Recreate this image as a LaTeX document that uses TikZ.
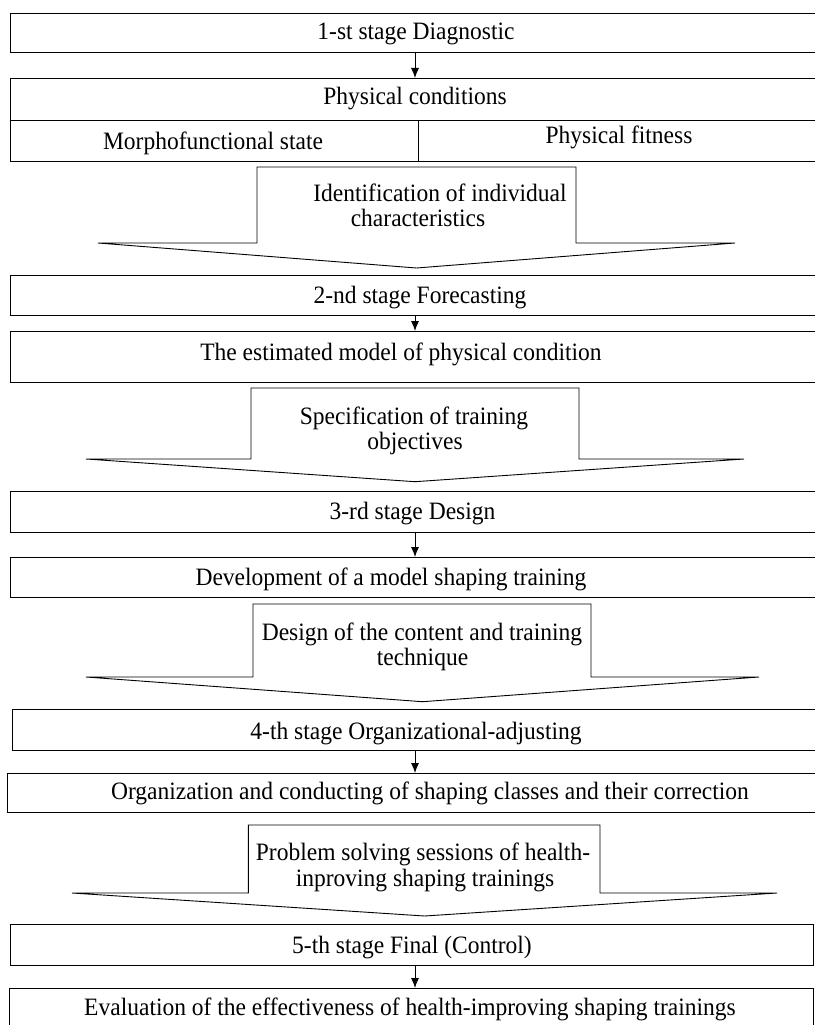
\documentclass[tikz,border=0pt]{standalone}
\usepackage{fontspec}
\setmainfont{Liberation Serif}[FakeStretch=0.94]
\usetikzlibrary{arrows.meta}
\begin{document}
\begin{tikzpicture}[x=1pt,y=-1pt,
  stagebox/.style={draw=black, line width=1.2pt, rectangle, inner sep=0pt, anchor=north west},
  lbl/.style={font=\fontsize{25}{26}\selectfont, inner sep=0pt, anchor=base},
  conn/.style={-{Latex[length=10pt,width=8pt]}, line width=0.9pt},
  blockarr/.style={draw=black, line width=0.9pt, line join=miter}]
\useasboundingbox (0,0) rectangle (814,1025);
\coordinate (ax) at (415,0);
% boxes
\node[stagebox, minimum width=810pt, minimum height=39pt] (b1) at (10,12.7) {};
\node[stagebox, minimum width=810pt, minimum height=42pt] (b2) at (10,78) {};
\node[stagebox, minimum width=408pt, minimum height=41pt] (b2l) at (10,120) {};
\node[stagebox, minimum width=402pt, minimum height=41pt] (b2r) at (418,120) {};
\node[stagebox, minimum width=810pt, minimum height=40pt] (b3) at (10,275) {};
\node[stagebox, minimum width=810pt, minimum height=51pt] (b4) at (9.7,331) {};
\node[stagebox, minimum width=810pt, minimum height=40.7pt] (b5) at (10,491) {};
\node[stagebox, minimum width=810pt, minimum height=40pt] (b6) at (10,557) {};
\node[stagebox, minimum width=808pt, minimum height=41pt] (b7) at (12,709) {};
\node[stagebox, minimum width=813pt, minimum height=39pt] (b8) at (6.7,773) {};
\node[stagebox, minimum width=803pt, minimum height=41pt] (b9) at (10,924) {};
\node[stagebox, minimum width=804pt, minimum height=50pt] (b10) at (9,988) {};
% connectors
\draw[conn] (b1.south -| ax) -- (b2.north -| ax);
\draw[conn] (b3.south -| ax) -- (b4.north -| ax);
\draw[conn] (b5.south -| ax) -- (b6.north -| ax);
\draw[conn] (b7.south -| ax) -- (b8.north -| ax);
\draw[conn] (b9.south -| ax) -- (b10.north -| ax);
% block arrows
\draw[blockarr] (257,167) -- (576,167) -- (576,243) -- (735,243) -- (416.5,268) -- (98,243) -- (257,243) -- cycle;
\draw[blockarr] (251,388) -- (579,388) -- (579,459) -- (744,459) -- (415,481.7) -- (86,459) -- (251,459) -- cycle;
\draw[blockarr] (253,604) -- (591,604) -- (591,677) -- (759,677) -- (422.5,701.7) -- (86,677) -- (253,677) -- cycle;
\draw[blockarr] (248.3,825) -- (600,825) -- (600,893) -- (777,893) -- (424.5,916) -- (72,893) -- (248.3,893) -- cycle;
% texts
\node[lbl] (t1) at (416,40) {1-st stage Diagnostic};
\node[lbl] (t2) at (415,104) {Physical conditions};
\node[lbl] (t2l) at (213,149) {Morphofunctional state};
\node[lbl] (t2r) at (619,143) {Physical fitness};
\node[lbl] (a1a) at (440,201.7) {Identification of individual};
\node[lbl] (a1b) at (418,226.7) {characteristics};
\node[lbl] (t3) at (420,303) {2-nd stage Forecasting};
\node[lbl] (t4) at (401,360) {The estimated model of physical condition};
\node[lbl] (a2a) at (414,424) {Specification of training};
\node[lbl] (a2b) at (415,449) {objectives};
\node[lbl] (t5) at (412.5,519) {3-rd stage Design};
\node[lbl] (t6) at (391,585) {Development of a model shaping training};
\node[lbl] (a3a) at (422,640) {Design of the content and training};
\node[lbl] (a3b) at (422.5,665) {technique};
\node[lbl] (t7) at (416,739) {4-th stage Organizational-adjusting};
\node[lbl] (t8) at (430,799) {Organization and conducting of shaping classes and their correction};
\node[lbl] (a4a) at (423,860) {Problem solving sessions of health-};
\node[lbl] (a4b) at (425,886.7) {inproving shaping trainings};
\node[lbl] (t9) at (412,953) {5-th stage Final (Control)};
\node[lbl] (t10) at (410,1015) {Evaluation of the effectiveness of health-improving shaping trainings};
\end{tikzpicture}
\end{document}
